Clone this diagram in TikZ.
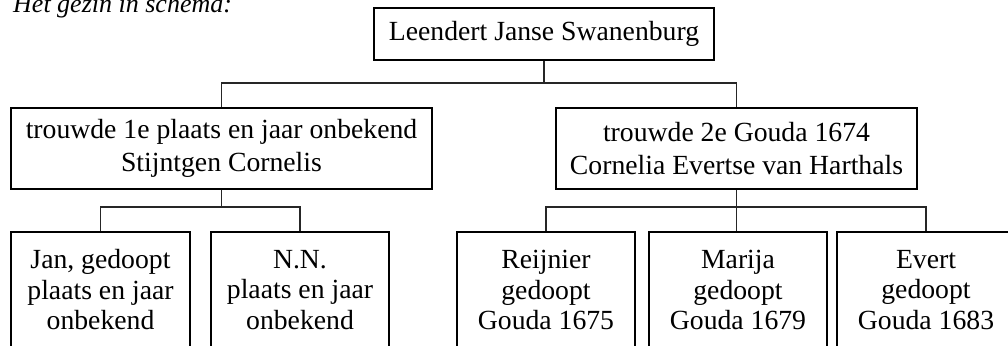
\documentclass[tikz,border=0pt]{standalone}
\usepackage{fontspec}
\setmainfont{Liberation Serif}
\usetikzlibrary{calc}
\begin{document}
\begin{tikzpicture}[x=1pt,y=-1pt,
  famtext/.style={font=\fontsize{27.7}{33}\selectfont},
  kidtext/.style={font=\fontsize{27.7}{30.5}\selectfont},
  box/.style={draw=black, line width=1.1pt, inner sep=0pt, align=center, anchor=center},
  conn/.style={draw=black!85, line width=1.1pt},
]
\useasboundingbox (0,0) rectangle (1008,345);
% title
\node[anchor=base west, inner sep=0pt, font=\fontsize{26}{30}\selectfont\itshape] (title) at (13,12.5) {Het gezin in schema:};
% level 1
\node[box, famtext, minimum width=340pt, minimum height=52pt] (top) at (544,34) {Leendert Janse Swanenburg};
% level 2
\node[box, famtext, minimum width=421pt, minimum height=81pt] (wa) at (221.5,148.5) {trouwde 1e plaats en jaar onbekend\\Stijntgen Cornelis};
\node[box, famtext, minimum width=361pt, minimum height=81pt] (wb) at (736.5,148.5) {trouwde 2e Gouda 1674\\Cornelia Evertse van Harthals};
% level 3
\node[box, kidtext, minimum width=179pt, minimum height=116pt] (jan) at (100.5,290) {Jan, gedoopt\\plaats en jaar\\onbekend};
\node[box, kidtext, minimum width=178pt, minimum height=116pt] (nn) at (300,290) {N.N.\\plaats en jaar\\onbekend};
\node[box, kidtext, minimum width=178pt, minimum height=116pt] (reij) at (546,290) {Reijnier\\gedoopt\\Gouda 1675};
\node[box, kidtext, minimum width=178pt, minimum height=116pt] (mar) at (738,290) {Marija\\gedoopt\\Gouda 1679};
\node[box, kidtext, minimum width=178pt, minimum height=116pt] (ev) at (926,290) {Evert\\gedoopt\\Gouda 1683};
% connectors
\coordinate (bus1) at (top.south |- 0,83);
\coordinate (busA) at (wa.south |- 0,207);
\coordinate (busB) at (wb.south |- 0,207);
\draw[conn] (top.south) -- (bus1);
\draw[conn] (wa.north) |- (bus1) -| (wb.north);
\draw[conn] (wa.south) -- (busA);
\draw[conn] (jan.north) |- (busA) -| (nn.north);
\draw[conn] (wb.south) -- (busB);
\draw[conn] (reij.north) |- (busB) -| (ev.north);
\draw[conn] (busB) -- (busB |- mar.north);
\end{tikzpicture}
\end{document}
